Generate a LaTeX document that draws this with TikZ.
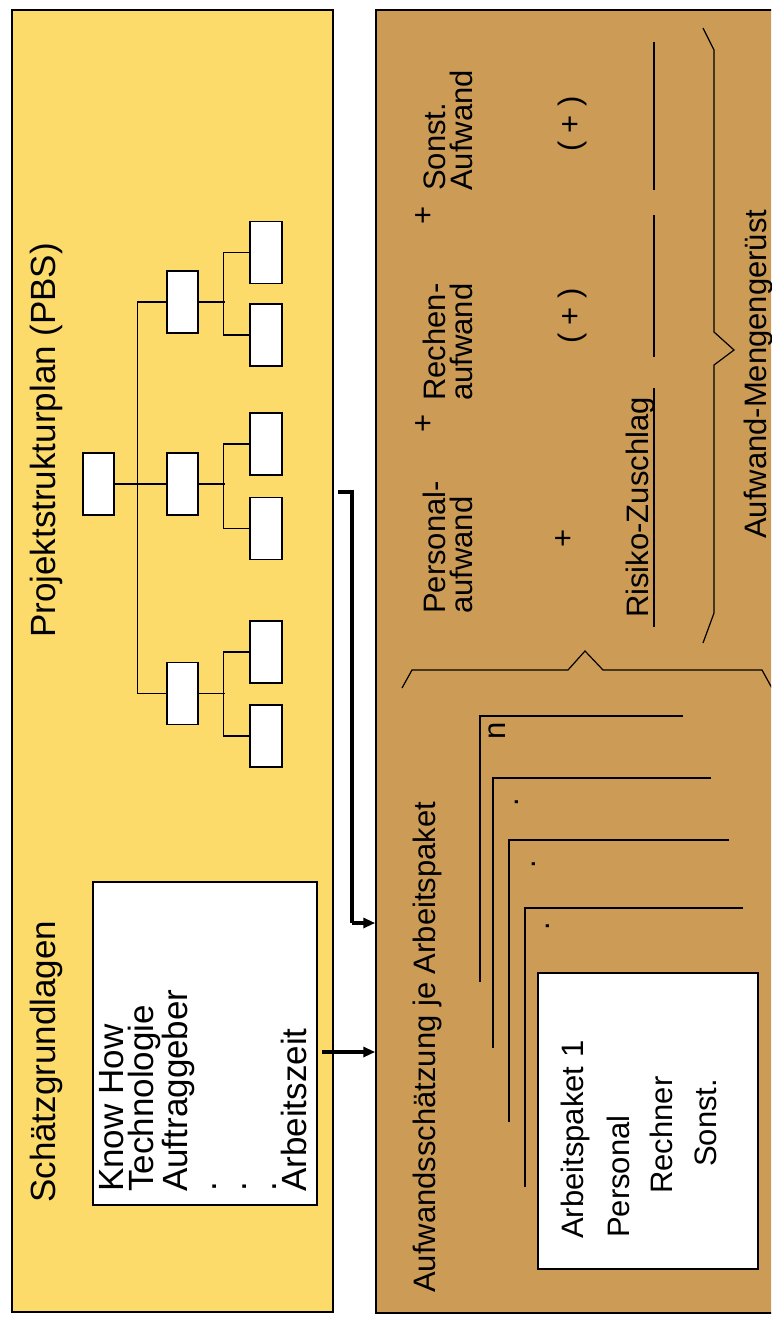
\documentclass[tikz,border=0pt]{standalone}
\usepackage{fontspec}
\setmainfont{Liberation Sans}
\usetikzlibrary{arrows.meta,calc}
\definecolor{gelb}{HTML}{FCDB6A}
\definecolor{braun}{HTML}{CC9C56}
\begin{document}
\begin{tikzpicture}[x=1pt,y=-1pt,
  frame/.style={draw=black, line width=1.5pt, inner sep=0pt},
  wbox/.style={draw=black, fill=white, line width=1.4pt, inner sep=0pt},
  tbox/.style={wbox, minimum width=31pt, minimum height=62pt},
  link/.style={line width=1.3pt},
  fine/.style={line width=1.2pt},
  heavy/.style={line width=3.2pt},
  arr/.style={heavy, -{Triangle[length=12pt,width=10pt]}},
  rt/.style={rotate=90, anchor=base west, inner sep=0pt},
  big/.style={font=\fontsize{35}{29.7}\selectfont},
  mid/.style={font=\fontsize{31}{27}\selectfont},
  ctr/.style={rotate=90, anchor=center, inner sep=0pt, font=\fontsize{31}{27}\selectfont},
]
\useasboundingbox (0,0) rectangle (771,1322);
\clip (0,0) rectangle (771,1322);

% outer panels
\node[frame, fill=gelb, minimum width=321pt, minimum height=1302pt] (lbox) at (172.5,661) {};
\node[frame, fill=braun, minimum width=440pt, minimum height=1303pt] (rbox) at (596,661.5) {};

% left panel titles
\node[rt, big] (pbs) at (55,638) {Projektstrukturplan (PBS)};
\node[rt, big] (sg) at (55,1203) {Schätzgrundlagen};

% tree
\node[tbox] (root) at (98.5,484) {};
\node[tbox] (m1) at (182.5,302) {};
\node[tbox] (m2) at (182.5,484) {};
\node[tbox] (m3) at (182.5,693.5) {};
\node[tbox, minimum width=32pt] (l1) at (266,252.5) {};
\node[tbox, minimum width=32pt] (l2) at (266,335) {};
\node[tbox, minimum width=32pt] (l3) at (266,444) {};
\node[tbox, minimum width=32pt] (l4) at (266,528.5) {};
\node[tbox, minimum width=32pt] (l5) at (266,652) {};
\node[tbox, minimum width=32pt] (l6) at (266,736) {};
\draw[link] (root.east) -- (m2.west);
\draw[link] (m1.west) -- ++(-29,0) |- (m3.west);
\draw[link] (m1.east) -- ++(26,0);
\draw[link] (m2.east) -- ++(26,0);
\draw[link] (m3.east) -- ++(26,0);
\draw[link] (l1.west) -- ++(-26,0) |- (l2.west);
\draw[link] (l3.west) -- ++(-26,0) |- (l4.west);
\draw[link] (l5.west) -- ++(-26,0) |- (l6.west);

% Schaetzgrundlagen box
\node[wbox, minimum width=224pt, minimum height=323pt] (sbox) at (205,1043.5) {};
\node[rt, big, align=left] (slist) at (306,1192) {Know How\\Technologie\\Auftraggeber\\.\\.\\.\\Arbeitszeit};

% arrows
\coordinate (a1) at (322,1052);
\draw[arr] (a1) -- (a1 -| rbox.west);
\coordinate (a2) at (338,492);
\coordinate (a2v) at (352,923);
\draw[heavy] (a2) -| (a2v);
\draw[arr] (a2v) -- (a2v -| rbox.west);

% right panel: title
\node[rt, mid] (aw) at (435,1293) {Aufwandsschätzung je Arbeitspaket};

% formula
\node[rt, mid, align=left] (pa) at (472,614) {Personal-\\aufwand};
\node[rt, mid, align=left] (ra) at (472,401) {Rechen-\\aufwand};
\node[rt, mid, align=left] (sa) at (472,191) {Sonst.\\Aufwand};
\node[ctr] (p1) at (425,423) {+};
\node[ctr] (p2) at (425,215) {+};
\node[ctr] (p3) at (565,538) {+};
\node[ctr] (q1) at (572,316) {( + )};
\node[ctr] (q2) at (572,124) {( + )};
\node[rt, mid] (rz) at (648,618) {Risiko-Zuschlag};
\draw[fine] (654,627) -- (654,388);
\draw[fine] (654,357) -- (654,215);
\draw[fine] (654,190) -- (654,42);

% braces
\draw[fine] (703,28) -- (714,50) -- (714,332) -- (734,350) -- (714,365) -- (714,613) -- (703,643);
\node[rt, mid] (amg) at (766,539) {Aufwand-Mengengerüst};
\draw[fine] (402,688) -- (412,670) -- (568,670) -- (585,651) -- (603,670) -- (762,670) -- (773,690);

% stacked work packages
\draw[fine] (683,716) -- (480,716) -- (480,982);
\node[ctr] (dn) at (497,731) {n};
\draw[fine] (711,778) -- (493,778) -- (493,1048);
\node[ctr] (d2) at (517,802) {.};
\draw[fine] (729,840) -- (509,840) -- (509,1122);
\node[ctr] (d3) at (534,864) {.};
\draw[fine] (743,908) -- (525,908) -- (525,1187);
\node[ctr] (d4) at (548,926) {.};

\node[wbox, minimum width=220pt, minimum height=296pt] (ap) at (648,1121) {};
\node[rt, mid] (ap1) at (583,1239) {Arbeitspaket 1};
\node[rt, mid] (ap2) at (629,1238) {Personal};
\node[rt, mid] (ap3) at (672,1194) {Rechner};
\node[rt, mid] (ap4) at (716,1167) {Sonst.};
\end{tikzpicture}
\end{document}
